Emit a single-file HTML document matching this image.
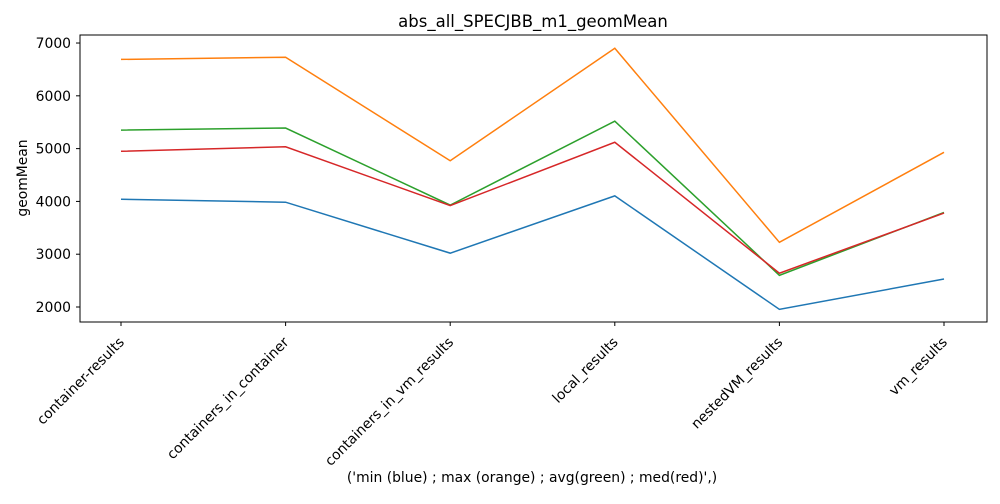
<!DOCTYPE html>
<html><head><meta charset="utf-8"><style>
body{margin:0;background:#fff;font-family:"DejaVu Sans",sans-serif}
</style></head><body>
<svg id="chart" width="1000" height="500" font-family="DejaVu Sans, sans-serif">
<text x="533" y="27" text-anchor="middle" font-size="16.5">abs_all_SPECJBB_m1_geomMean</text>
<g id="grid"></g>
<g id="series"></g>
<rect x="80" y="35" width="907" height="287" fill="none" stroke="#000" stroke-width="1"/>
<text transform="translate(27,178) rotate(-90)" text-anchor="middle" font-size="13.9">geomMean</text>
<text x="532" y="482" text-anchor="middle" font-size="13.9">('min (blue) ; max (orange) ; avg(green) ; med(red)',)</text>
</svg>
<script>
const categories=["container-results","containers_in_container","containers_in_vm_results","local_results","nestedVM_results","vm_results"];
const minVals=[4040,3985,3020,4105,1955,2530];
const maxVals=[6690,6730,4770,6900,3225,4930];
const avgVals=[5350,5390,3930,5520,2600,3790];
const medVals=[4950,5035,3920,5120,2640,3780];
const yTicks=[2000,3000,4000,5000,6000,7000];
const NS="http://www.w3.org/2000/svg";
const x0=121,x1=944,yMin=1716,yMax=7152,plotTop=35,plotBot=322;
function xs(i){return x0+i*(x1-x0)/(categories.length-1);}
function ys(v){return plotBot-(v-yMin)/(yMax-yMin)*(plotBot-plotTop);}
const g=document.getElementById('grid'),s=document.getElementById('series');
yTicks.forEach(t=>{
 const l=document.createElementNS(NS,'line');
 l.setAttribute('x1',76);l.setAttribute('x2',80);l.setAttribute('y1',ys(t));l.setAttribute('y2',ys(t));l.setAttribute('stroke','#000');
 
 
 g.appendChild(l);
 const tx=document.createElementNS(NS,'text');
 tx.setAttribute('x',71);tx.setAttribute('y',ys(t)+5);tx.setAttribute('text-anchor','end');tx.setAttribute('font-size','13.9');tx.textContent=t;
 
 
 g.appendChild(tx);
});
categories.forEach((c,i)=>{
 const l=document.createElementNS(NS,'line');
 l.setAttribute('x1',xs(i));l.setAttribute('x2',xs(i));l.setAttribute('y1',322);l.setAttribute('y2',326);l.setAttribute('stroke','#000');
 
 
 g.appendChild(l);
 const tx=document.createElementNS(NS,'text');
 tx.setAttribute('transform','translate('+(xs(i)+4)+',343) rotate(-45)');
 tx.setAttribute('text-anchor','end');tx.setAttribute('font-size','13.9');tx.textContent=c;
 
 
 g.appendChild(tx);
});
[[minVals,'#1f77b4','min-line'],[maxVals,'#ff7f0e','max-line'],[avgVals,'#2ca02c','avg-line'],[medVals,'#d62728','med-line']].forEach(([vals,col,name])=>{
 const p=document.createElementNS(NS,'polyline');
 p.setAttribute('points',vals.map((v,i)=>xs(i)+','+ys(v)).join(' '));
 p.setAttribute('fill','none');p.setAttribute('stroke',col);p.setAttribute('stroke-width','1.5');
 
 
 s.appendChild(p);
});
</script>
</body></html>
